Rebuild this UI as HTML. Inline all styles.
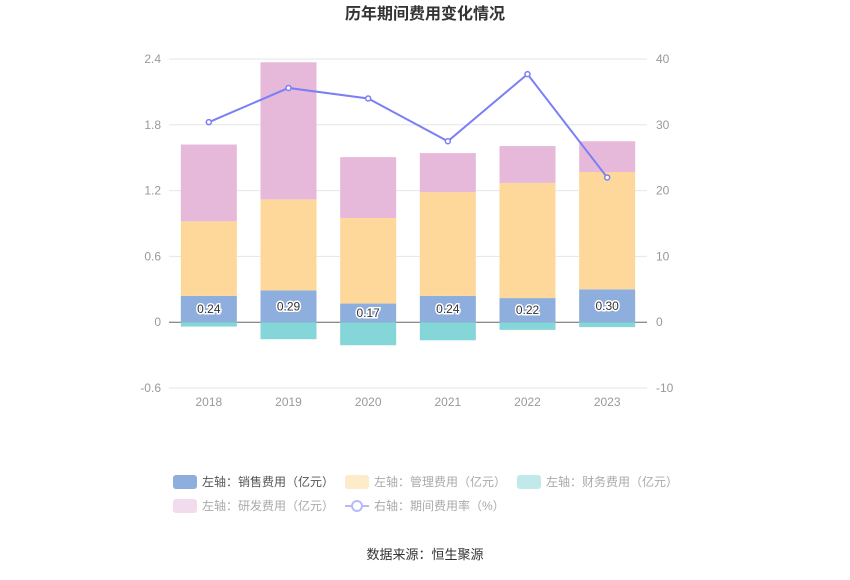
<!DOCTYPE html>
<html><head><meta charset="utf-8"><style>
body{margin:0;background:#fff;font-family:"Liberation Sans","Noto Sans CJK SC",sans-serif}
</style></head><body>
<svg id="c" width="850" height="575" xmlns="http://www.w3.org/2000/svg" style="font-family:'Liberation Sans','Noto Sans CJK SC',sans-serif">
<text x="425" y="19" text-anchor="middle" font-size="16" font-weight="bold" fill="#333">历年期间费用变化情况</text>
<g id="grid"></g><g id="bars"></g><g id="line"></g>
<g font-size="12">
<g><rect x="173" y="475" width="24" height="14" rx="3" fill="#8eaedd"/><text x="202" y="486" fill="#555">左轴：销售费用（亿元）</text></g>
<g><rect x="345" y="475" width="24" height="14" rx="3" fill="#fdebc9"/><text x="374" y="486" fill="#aaa">左轴：管理费用（亿元）</text></g>
<g><rect x="517" y="475" width="24" height="14" rx="3" fill="#c2e9ea"/><text x="546" y="486" fill="#aaa">左轴：财务费用（亿元）</text></g>
<g><rect x="173" y="499" width="24" height="14" rx="3" fill="#f2dbec"/><text x="202" y="510" fill="#aaa">左轴：研发费用（亿元）</text></g>
<g><line x1="345" y1="506" x2="369" y2="506" stroke="#b7b9fa" stroke-width="2"/><circle cx="357" cy="506" r="5" fill="#fff" stroke="#b7b9fa" stroke-width="2"/><text x="374" y="510" fill="#aaa">右轴：期间费用率（%）</text></g>
</g>
<text x="425" y="559" text-anchor="middle" font-size="13" fill="#333">数据来源：恒生聚源</text>
</svg>
<script>
const categories=["2018","2019","2020","2021","2022","2023"];
const sales=[0.24,0.29,0.17,0.24,0.22,0.30];
const management=[0.68,0.83,0.78,0.946,1.05,1.07];
const finance=[-0.04,-0.155,-0.21,-0.165,-0.07,-0.045];
const rd=[0.70,1.25,0.555,0.356,0.336,0.28];
const rate=[30.4,35.6,34.0,27.5,37.7,22.0];
const leftTicks=[-0.6,0,0.6,1.2,1.8,2.4];
const rightTicks=[-10,0,10,20,30,40];
const NS="http://www.w3.org/2000/svg";
const x0=169,x1=647,yTop=59,yBot=388;
const yL=v=>yBot-(v+0.6)/3.0*(yBot-yTop);
const yR=v=>yBot-(v+10)/50*(yBot-yTop);
const xC=i=>x0+(x1-x0)/categories.length*(i+0.5);
function mk(t,a,p){const e=document.createElementNS(NS,t);for(const k in a)e.setAttribute(k,a[k]);p.appendChild(e);return e;}
const grid=document.getElementById('grid');
leftTicks.forEach((v,i)=>{const y=yL(v);
 const l=mk('line',{x1:x0,x2:x1,y1:y,y2:y,stroke:v===0?'#666':'#e6e6e6'},grid);
 
 
 const t=mk('text',{x:x0-8,y:y+4,'text-anchor':'end','font-size':12,fill:'#999'},grid);t.textContent=String(v);
 
 
 const r=mk('text',{x:x1+9,y:yR(rightTicks[i])+4,'font-size':12,fill:'#999'},grid);r.textContent=String(rightTicks[i]);
 
 
});
categories.forEach((c,i)=>{const t=mk('text',{x:xC(i),y:yBot+18,'text-anchor':'middle','font-size':12,fill:'#999'},grid);t.textContent=c;
 
 });
const bars=document.getElementById('bars');const w=56;
categories.forEach((c,i)=>{
 const x=xC(i)-w/2;
 const segs=[[0,sales[i],'#8eaedd','bar-sales'],[sales[i],sales[i]+management[i],'#fed89a','bar-management'],[sales[i]+management[i],sales[i]+management[i]+rd[i],'#e6b8da','bar-rd'],[finance[i],0,'#85d6d8','bar-finance']];
 segs.forEach(s=>{const r=mk('rect',{x:x,y:yL(s[1]),width:w,height:yL(s[0])-yL(s[1]),fill:s[2]},bars);
  
  });
 const t=mk('text',{x:xC(i),y:yL(sales[i]/2)+4,'text-anchor':'middle','font-size':12,fill:'#333',stroke:'#fff','stroke-width':3,'paint-order':'stroke'},bars);
 t.textContent=sales[i].toFixed(2);
 
 
});
const lg=document.getElementById('line');
const pl=mk('polyline',{points:rate.map((v,i)=>xC(i)+','+yR(v)).join(' '),fill:'none',stroke:'#7b7ff5','stroke-width':2},lg);


rate.forEach((v,i)=>{const p=mk('circle',{cx:xC(i),cy:yR(v),r:2.5,fill:'#fff',stroke:'#7b7ff5','stroke-width':1.5},lg);
 
 });
</script>
</body></html>
